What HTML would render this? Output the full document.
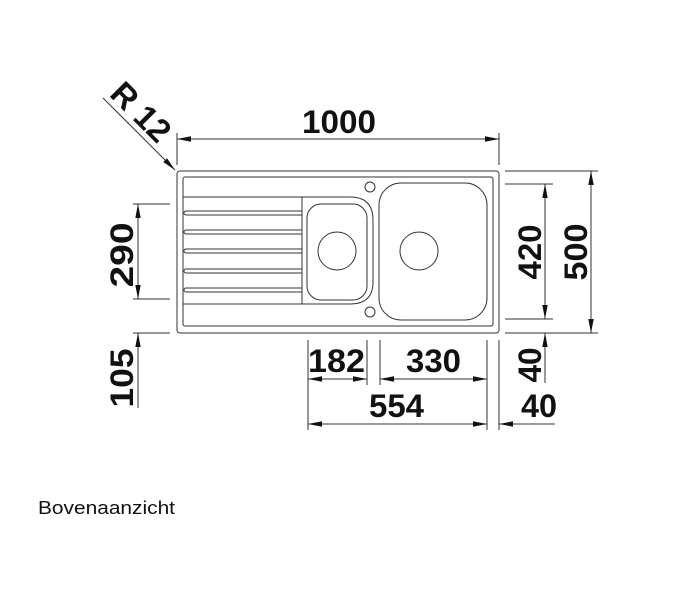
<!DOCTYPE html>
<html><head><meta charset="utf-8"><style>
html,body{margin:0;padding:0;background:#fff;}
svg{display:block;}
text{font-family:"Liberation Sans",sans-serif;font-weight:bold;fill:#111;}
</style></head><body>
<svg width="697" height="600" viewBox="0 0 697 600" xmlns="http://www.w3.org/2000/svg">
<defs>
<marker id="a" viewBox="0 0 14 6" refX="14" refY="3" markerWidth="14" markerHeight="6" markerUnits="userSpaceOnUse" orient="auto-start-reverse">
<path d="M0,0.3 L14,3 L0,5.7 Z" fill="#111"/>
</marker>
</defs>
<g fill="none" stroke="#333" stroke-width="1">
<rect x="177" y="171" width="322" height="162" rx="3"/>
<rect x="183" y="177" width="310" height="149" rx="2"/>
<path d="M183,197 H350 Q373,197 373,220 V282 Q373,304 350,304 H183"/>
<line x1="302" y1="197" x2="302" y2="304"/>
<path d="M302,211 H186 a2,2 0 0 0 0,4 H302"/>
<path d="M302,230 H186 a2,2 0 0 0 0,4 H302"/>
<path d="M302,249 H186 a2,2 0 0 0 0,4 H302"/>
<path d="M302,269 H186 a2,2 0 0 0 0,4 H302"/>
<path d="M302,288 H186 a2,2 0 0 0 0,4 H302"/>
<rect x="307" y="204" width="60" height="96" rx="14"/>
<circle cx="337" cy="251" r="19"/>
<rect x="379" y="183" width="108" height="137" rx="22"/>
<circle cx="419" cy="251" r="19"/>
<circle cx="370" cy="187" r="5"/>
<circle cx="370" cy="312" r="5"/>

<line x1="177" y1="133" x2="177" y2="165"/>
<line x1="499" y1="133" x2="499" y2="165"/>
<line x1="177" y1="139" x2="499" y2="139" marker-start="url(#a)" marker-end="url(#a)"/>
<line x1="103" y1="98" x2="175" y2="170" marker-end="url(#a)"/>
<line x1="133" y1="204" x2="170" y2="204"/>
<line x1="133" y1="299" x2="170" y2="299"/>
<line x1="133" y1="333" x2="170" y2="333"/>
<line x1="138" y1="204" x2="138" y2="299" marker-start="url(#a)" marker-end="url(#a)"/>
<line x1="138" y1="408" x2="138" y2="333" marker-end="url(#a)"/>
<line x1="505" y1="171" x2="598" y2="171"/>
<line x1="505" y1="333" x2="598" y2="333"/>
<line x1="505" y1="184" x2="553" y2="184"/>
<line x1="505" y1="319" x2="553" y2="319"/>
<line x1="545" y1="184" x2="545" y2="319" marker-start="url(#a)" marker-end="url(#a)"/>
<line x1="591" y1="171" x2="591" y2="333" marker-start="url(#a)" marker-end="url(#a)"/>
<line x1="545" y1="383" x2="545" y2="333" marker-end="url(#a)"/>
<line x1="308" y1="340" x2="308" y2="430"/>
<line x1="367" y1="340" x2="367" y2="385"/>
<line x1="380" y1="340" x2="380" y2="385"/>
<line x1="487" y1="340" x2="487" y2="430"/>
<line x1="499" y1="340" x2="499" y2="430"/>
<line x1="308" y1="379" x2="367" y2="379" marker-start="url(#a)" marker-end="url(#a)"/>
<line x1="380" y1="379" x2="487" y2="379" marker-start="url(#a)" marker-end="url(#a)"/>
<line x1="308" y1="424" x2="487" y2="424" marker-start="url(#a)" marker-end="url(#a)"/>
<line x1="555" y1="424" x2="499" y2="424" marker-end="url(#a)"/>
</g>
<g font-size="32">
<text x="302" y="133" textLength="74" lengthAdjust="spacingAndGlyphs">1000</text>
<text x="308" y="372" textLength="57" lengthAdjust="spacingAndGlyphs">182</text>
<text x="406" y="372" textLength="55" lengthAdjust="spacingAndGlyphs">330</text>
<text x="369" y="417" textLength="55" lengthAdjust="spacingAndGlyphs">554</text>
<text x="521" y="417" textLength="36" lengthAdjust="spacingAndGlyphs">40</text>
<text transform="translate(133,255) rotate(-90)" text-anchor="middle" textLength="65" lengthAdjust="spacingAndGlyphs">290</text>
<text transform="translate(133,378) rotate(-90)" text-anchor="middle" textLength="59" lengthAdjust="spacingAndGlyphs">105</text>
<text transform="translate(541,252) rotate(-90)" text-anchor="middle" textLength="55" lengthAdjust="spacingAndGlyphs">420</text>
<text transform="translate(587,252) rotate(-90)" text-anchor="middle" textLength="57" lengthAdjust="spacingAndGlyphs">500</text>
<text transform="translate(541,365) rotate(-90)" text-anchor="middle" textLength="35" lengthAdjust="spacingAndGlyphs">40</text>
<text transform="translate(133,120) rotate(45)" text-anchor="middle" font-size="33">R 12</text>
</g>
<text x="38" y="514" font-size="18.5" style="font-weight:normal" textLength="137" lengthAdjust="spacingAndGlyphs">Bovenaanzicht</text>
</svg>
</body></html>
